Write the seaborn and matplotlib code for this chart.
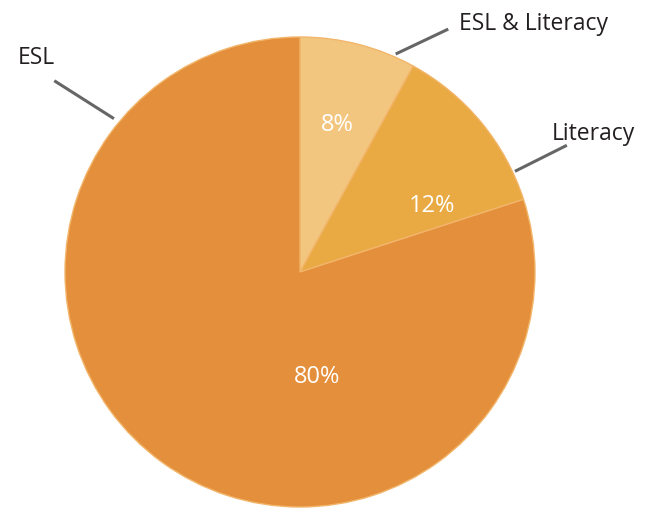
import numpy as np
import matplotlib.pyplot as plt
import seaborn as sns

categories = ["ESL & Literacy", "Literacy", "ESL"]
shares = [8, 12, 80]
colors = ["#F3C67F", "#E9AA43", "#E48F3B"]

# where the percent labels sit (angle in deg, radius as fraction of pie radius)
pct_pos = [(76, 0.65), (26.7, 0.63), (-80.8, 0.45)]
# leader lines: (angle_start, r_start, angle_end, r_end)
leaders = [(66.3, 1.013, 58.6, 1.211), (25.1, 1.01, 25.4, 1.257), (140.5, 1.026, 142.1, 1.325)]
# category label left edge / vertical centre
label_pos = [(0.678, 1.059), (1.072, 0.593), (-1.203, 0.915)]

sns.set_theme(style="white")
plt.rcParams['font.family'] = ['Open Sans', 'DejaVu Sans']

fig = plt.figure(figsize=(6.54, 5.10), dpi=100)
ax = fig.add_axes([0, 0, 1, 1])

ax.pie(shares, colors=colors, startangle=90, counterclock=False, radius=1,
       wedgeprops=dict(edgecolor="#F2B56A", linewidth=1))

def polar(a, r):
    return r * np.cos(np.radians(a)), r * np.sin(np.radians(a))

for v, (a, r) in zip(shares, pct_pos):
    x, y = polar(a, r)
    ax.text(x, y, f"{v}%", color="white", fontsize=17, ha="center", va="center")

for (a0, r0, a1, r1) in leaders:
    x0, y0 = polar(a0, r0)
    x1, y1 = polar(a1, r1)
    ax.plot([x0, x1], [y0, y1], color="#666666", lw=2.2, solid_capstyle="butt")

for name, (x, y) in zip(categories, label_pos):
    ax.text(x, y, name, color="#231F20", fontsize=16.5, ha="left", va="center")

# pie centre at about (300, 273) px, radius about 235 px
ax.set_xlim(-300 / 235, 354 / 235)
ax.set_ylim(-237 / 235, 273 / 235)
ax.set_aspect("auto")
ax.axis("off")

fig.savefig("out.png", dpi=100)
